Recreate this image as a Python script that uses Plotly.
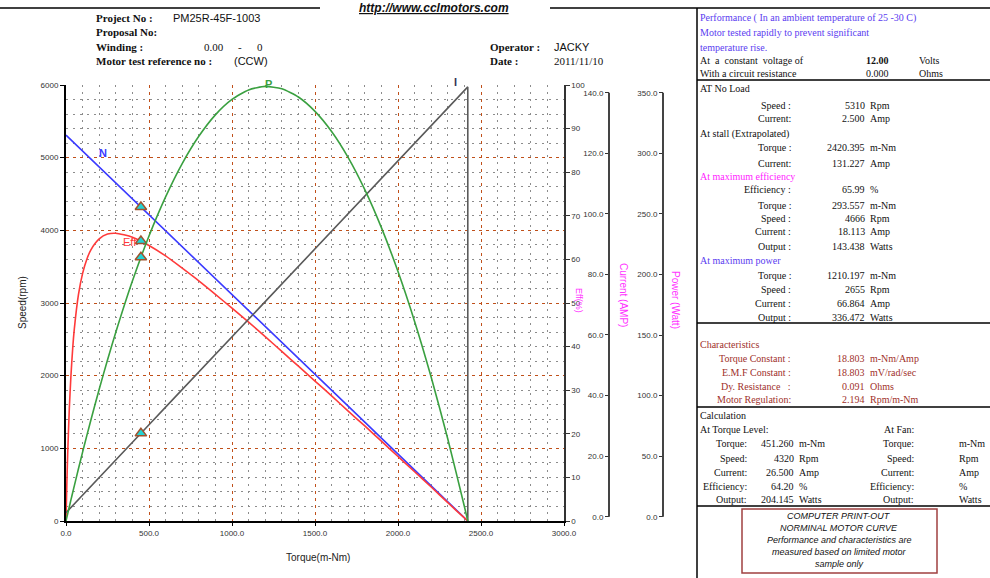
import plotly.graph_objects as go

# ---------------- data ----------------
torque = [0, 5, 10, 20, 30, 40, 50, 75, 100, 125, 150, 200, 250, 300, 400, 500, 600, 700, 800,
          900, 1000, 1100, 1200, 1300, 1400, 1500, 1600, 1700, 1800, 1900, 2000, 2100,
          2200, 2300, 2400, 2420.4]
speed = [5310, 5299, 5288, 5266, 5244, 5222, 5200, 5145, 5091, 5036, 4981, 4871, 4762, 4652,
         4432, 4213, 3994, 3774, 3555, 3335, 3116, 2897, 2677, 2458, 2238, 2019, 1800,
         1580, 1361, 1141, 922, 703, 483, 264, 44, 0]
efficiency = [0, 8.4, 15.2, 25.8, 33.5, 39.4, 44.0, 51.9, 56.8, 60.0, 62.2, 64.7, 65.8, 66.0,
              65.1, 63.2, 60.8, 58.0, 55.1, 52.0, 48.8, 45.6, 42.3, 38.9, 35.5, 32.1, 28.7,
              25.2, 21.8, 18.3, 14.8, 11.3, 7.8, 4.2, 0.7, 0]
current = [2.5, 2.77, 3.03, 3.56, 4.10, 4.63, 5.16, 6.49, 7.82, 9.15, 10.48, 13.14, 15.80,
           18.46, 23.77, 29.09, 34.41, 39.73, 45.05, 50.37, 55.68, 61.00, 66.32, 71.64,
           76.96, 82.28, 87.59, 92.91, 98.23, 103.55, 108.87, 114.19, 119.50, 124.82,
           130.14, 131.23]
power = [0, 2.8, 5.5, 11.0, 16.5, 21.9, 27.2, 40.4, 53.3, 65.9, 78.2, 102.0, 124.7, 146.1,
         185.7, 220.6, 250.9, 276.7, 297.8, 314.4, 326.3, 333.7, 336.4, 334.6, 328.2,
         317.1, 301.5, 281.3, 256.5, 227.1, 193.1, 154.5, 111.3, 63.5, 11.2, 0]
stall_torque = 2420.4
# calculation point (torque level)
calc_torque = 451.26
calc_speed = 4320
calc_eff = 64.20
calc_current = 26.5
calc_power = 204.145

x_ticks = [0, 500, 1000, 1500, 2000, 2500, 3000]
eff_ticks = list(range(0, 101, 10))
cur_ticks = [0, 20, 40, 60, 80, 100, 120, 140]
pow_ticks = [0, 50, 100, 150, 200, 250, 300, 350]

W, H = 990, 578


def X(px):
    return px / W


def Y(py):
    return 1 - py / H


SERIF = "Liberation Serif"
SANS = "Liberation Sans"
annotations = []


def txt(x, y, s, anchor="left", size=10, color="#111111", family=SERIF, bold=False,
        italic=False, angle=0):
    if bold:
        s = f"<b>{s}</b>"
    if italic:
        s = f"<i>{s}</i>"
    annotations.append(dict(x=X(x), y=Y(y), xref="paper", yref="paper", text=s,
                            showarrow=False, xanchor=anchor, yanchor="middle",
                            font=dict(size=size, color=color, family=family),
                            textangle=angle, borderpad=0))


fig = go.Figure()

GREY = "#5a5a5a"
GREEN = "#3aa040"
BLUE = "#3a3aff"
RED = "#ff3a3a"

fig.add_trace(go.Scatter(x=torque + [stall_torque], y=current + [0], yaxis="y5",
                         mode="lines", line=dict(color=GREY, width=1.6), showlegend=False))
fig.add_trace(go.Scatter(x=torque, y=power, yaxis="y6", mode="lines",
                         line=dict(color=GREEN, width=1.6, shape="spline", smoothing=0.6),
                         showlegend=False))
fig.add_trace(go.Scatter(x=torque, y=efficiency, yaxis="y2", mode="lines",
                         line=dict(color=RED, width=1.6, shape="spline", smoothing=0.6),
                         showlegend=False))
fig.add_trace(go.Scatter(x=torque, y=speed, yaxis="y", mode="lines",
                         line=dict(color=BLUE, width=1.6), showlegend=False))

mk = dict(symbol="triangle-up", size=10, color="#22d3d3",
          line=dict(color="#a0522d", width=1.5))
for yv, ax in [(calc_speed, "y"), (calc_eff, "y2"), (calc_current, "y5"), (calc_power, "y6")]:
    fig.add_trace(go.Scatter(x=[calc_torque], y=[yv], yaxis=ax, mode="markers",
                             marker=mk, showlegend=False))

x0d, x1d = X(66), X(564)
y0d, y1d = Y(521), Y(85)
MAJ = "#c0501a"
MIN = "#8c8c8c"
MAJDASH = "3px,4px"
MINDASH = "2px,5px"
TF = dict(size=8, color="#333333", family=SANS)

fig.update_layout(
    template="none",
    width=W, height=H, margin=dict(l=0, r=0, t=0, b=0, pad=0, autoexpand=False),
    paper_bgcolor="white", plot_bgcolor="white", showlegend=False,
    xaxis=dict(domain=[x0d, x1d], range=[0, 3000], tickvals=x_ticks, tickformat=".1f",
               showgrid=True, gridcolor=MAJ, griddash=MAJDASH, gridwidth=1,
               minor=dict(dtick=100, showgrid=True, gridcolor=MIN, griddash=MINDASH,
                          gridwidth=1),
               showline=True, linecolor="black", linewidth=2, ticks="outside", ticklen=3,
               tickcolor="black", tickfont=TF, zeroline=False, automargin=False),
    yaxis=dict(domain=[y0d, y1d], range=[0, 6000], dtick=1000,
               showgrid=True, gridcolor=MAJ, griddash=MAJDASH, gridwidth=1,
               minor=dict(dtick=200, showgrid=True, gridcolor=MIN, griddash=MINDASH,
                          gridwidth=1),
               showline=True, linecolor="black", linewidth=2, ticks="outside", ticklen=4,
               tickcolor="black", tickfont=TF, zeroline=False, automargin=False),
    yaxis2=dict(overlaying="y", side="right", anchor="x", range=[0, 100], tickvals=eff_ticks,
                showgrid=False, showline=True, linecolor="#333333", linewidth=1.5,
                ticks="outside", ticklen=4, tickcolor="#333333", tickfont=TF,
                zeroline=False, automargin=False),
    yaxis3=dict(overlaying="y", anchor="free", position=X(609), side="left",
                range=[-1.42, 142.54], tickvals=cur_ticks, tickformat=".1f",
                showgrid=False, showline=False, ticks="outside", ticklen=4,
                tickcolor="#333333", tickfont=TF, zeroline=False, automargin=False),
    yaxis4=dict(overlaying="y", anchor="free", position=X(663), side="left",
                range=[-3.55, 356.4], tickvals=pow_ticks, tickformat=".1f",
                showgrid=False, showline=False, ticks="outside", ticklen=4,
                tickcolor="#333333", tickfont=TF, zeroline=False, automargin=False),
    yaxis5=dict(overlaying="y", range=[0, 131.8], visible=False, automargin=False),
    yaxis6=dict(overlaying="y", range=[0, 337.5], visible=False, automargin=False),
)

shapes = []


def pline(x0, y0, x1, y1, color="black", width=1.5):
    shapes.append(dict(type="line", xref="paper", yref="paper", x0=X(x0), y0=Y(y0),
                       x1=X(x1), y1=Y(y1), line=dict(color=color, width=width)))


# visible current / power axis lines
shapes.append(dict(type="line", xref="paper", yref="y3", x0=X(609), x1=X(609), y0=0, y1=140,
                   line=dict(color="#444444", width=2)))
shapes.append(dict(type="line", xref="paper", yref="y4", x0=X(663), x1=X(663), y0=0, y1=350,
                   line=dict(color="#444444", width=2)))

# header + right panel frame
pline(0, 8, 320, 8)
pline(550, 8, 990, 8)
pline(697, 8, 697, 578)
for yy in [80, 323, 407, 506]:
    pline(697, yy, 990, yy)
shapes.append(dict(type="rect", xref="paper", yref="paper", x0=X(742), y0=Y(509), x1=X(937),
                   y1=Y(573), line=dict(color="#a04040", width=1.5)))
fig.update_layout(shapes=shapes)

# ---------------- texts ----------------
txt(434, 8, "<u>http://www.cclmotors.com</u>", anchor="center", size=12, family=SANS,
    bold=True, italic=True)
txt(95, 18, "Project No :", size=11, bold=True)
txt(172, 18, "PM25R-45F-1003", size=11, family=SANS)
txt(95, 32, "Proposal No:", size=11, bold=True)
txt(95, 47, "Winding :", size=11, bold=True)
txt(225, 47, "0.00", anchor="right", size=11)
txt(240, 47, "-", anchor="center", size=11)
txt(256, 47, "0", size=11)
txt(95, 61, "Motor test reference no :", size=11, bold=True)
txt(233, 61, "(CCW)", size=11, family=SANS)
txt(489, 47, "Operator :", size=11, bold=True)
txt(553, 47, "JACKY", size=11, family=SANS)
txt(489, 61, "Date :", size=11, bold=True)
txt(553, 61, "2011/11/10", size=11)

# axis titles
txt(318, 557, "Torque(m-Nm)", anchor="center", size=10, family=SANS, color="#222222")
txt(22, 303, "Speed(rpm)", anchor="center", size=10, family=SANS, color="#222222", angle=-90)
txt(579, 300, "Eff(%)", anchor="center", size=9, family=SANS, color="#ff33ff", angle=90)
txt(624, 295, "Current (AMP)", anchor="center", size=10, family=SANS, color="#ff33ff",
    angle=90)
txt(676, 300, "Power (Watt)", anchor="center", size=10, family=SANS, color="#ff33ff",
    angle=90)

# curve labels
txt(103, 153, "N", anchor="center", size=11, family=SANS, color=BLUE, bold=True)
txt(122, 242, "Eff", size=11, family=SANS, color=RED)
txt(268, 84, "P", anchor="center", size=11, family=SANS, color=GREEN, bold=True)
txt(455, 82, "I", anchor="center", size=11, family=SANS, color="#333355", bold=True)

# right panel
PB = "#5a3cf0"
MAG = "#ff22ff"
BR = "#a0302a"
txt(699, 18, "Performance ( In an ambient temperature of 25 -30 C)", color=PB)
txt(699, 33, "Motor tested rapidly to prevent significant", color=PB)
txt(699, 48, "temperature rise.", color=PB)
txt(699, 61, "At  a  constant  voltage of")
txt(890, 61, "12.00", anchor="right", bold=True)
txt(918, 61, "Volts")
txt(699, 74, "With a circuit resistance")
txt(890, 74, "0.000", anchor="right")
txt(918, 74, "Ohms")
txt(699, 88, "AT No Load")
txt(699, 134, "At stall (Extrapolated)")
txt(699, 176, "At maximum efficiency", color=MAG)
txt(699, 261, "At maximum power", color=PB)

rows = [(105, "Speed :", "5310", "Rpm"), (119, "Current:", "2.500", "Amp"),
        (148, "Torque :", "2420.395", "m-Nm"), (163, "Current:", "131.227", "Amp"),
        (190, "Efficiency :", "65.99", "%"), (205, "Torque :", "293.557", "m-Nm"),
        (219, "Speed :", "4666", "Rpm"), (232, "Current :", "18.113", "Amp"),
        (246, "Output :", "143.438", "Watts"), (275, "Torque :", "1210.197", "m-Nm"),
        (289, "Speed :", "2655", "Rpm"), (303, "Current :", "66.864", "Amp"),
        (317, "Output :", "336.472", "Watts")]
for yy, lab, val, unit in rows:
    txt(792, yy, lab, anchor="right")
    txt(866, yy, val, anchor="right")
    txt(869, yy, unit)

txt(699, 344, "Characteristics", color=BR)
crows = [(358, "Torque Constant :", "18.803", "m-Nm/Amp"),
         (372, "E.M.F Constant :", "18.803", "mV/rad/sec"),
         (386, "Dy. Resistance &nbsp;&nbsp;:", "0.091", "Ohms"),
         (400, "Motor Regulation:", "2.194", "Rpm/m-Nm")]
for yy, lab, val, unit in crows:
    txt(792, yy, lab, anchor="right", color=BR)
    txt(866, yy, val, anchor="right", color=BR)
    txt(869, yy, unit, color=BR)

txt(699, 415, "Calculation")
txt(699, 429, "At Torque Level:")
txt(915, 429, "At Fan:", anchor="right")
calc_rows = [(443, "Torque:", "451.260", "m-Nm"), (458, "Speed:", "4320", "Rpm"),
             (472, "Current:", "26.500", "Amp"), (486, "Efficiency:", "64.20", "%"),
             (499, "Output:", "204.145", "Watts")]
for yy, lab, val, unit in calc_rows:
    txt(748, yy, lab, anchor="right")
    txt(795, yy, val, anchor="right")
    txt(798, yy, unit)
    txt(915, yy, lab, anchor="right")
    txt(958, yy, unit)

box_lines = ["COMPUTER PRINT-OUT", "NORMINAL MOTOR CURVE",
             "Performance and characteristics are", "measured based on limited motor",
             "sample only"]
for i, s in enumerate(box_lines):
    txt(839, 516 + i * 12, s, anchor="center", size=9, family=SANS, italic=True,
        color="#111111")

fig.update_layout(annotations=annotations)
fig.write_html("out.html", config={"displayModeBar": False},
               post_script="document.body.style.margin='0';document.body.style.overflow='hidden';")
